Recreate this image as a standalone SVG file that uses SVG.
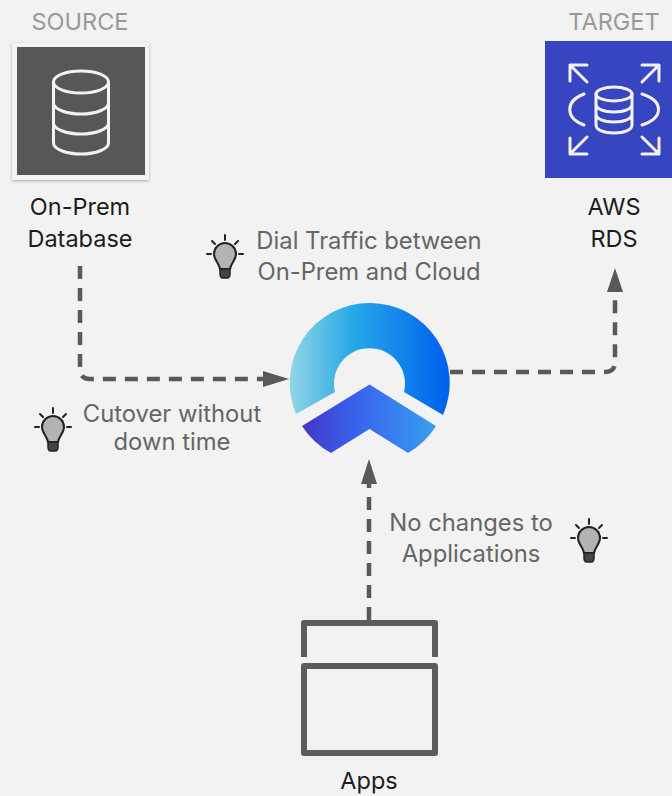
<svg xmlns="http://www.w3.org/2000/svg" width="672" height="796" viewBox="0 0 672 796">
<style>
text{font-family:Inter,"Liberation Sans",sans-serif;font-size:23.500px;text-anchor:middle}
.h{fill:#999}.n{fill:#1c1c1c}.g{fill:#666;font-size:23.800px}
.dash{fill:none;stroke:#595959;stroke-width:4.5;stroke-dasharray:13 9}
.ic{fill:none;stroke:#f2f2f2;stroke-width:3;stroke-linecap:round;stroke-linejoin:round}
.app{fill:none;stroke:#5c5c5c;stroke-width:6;stroke-linejoin:round}
.b{fill:none;stroke:#222;stroke-width:2;stroke-linecap:round}
</style>
<defs>
<filter id="sh" x="-10%" y="-10%" width="120%" height="120%"><feDropShadow dx="0" dy="1" stdDeviation="1.5" flood-color="#000" flood-opacity=".3"/></filter>
<linearGradient id="r" gradientUnits="userSpaceOnUse" x1="290" y1="0" x2="450" y2="0"><stop offset="0" stop-color="#8fd6e3"/><stop offset=".4" stop-color="#25a8e8"/><stop offset="1" stop-color="#005fee"/></linearGradient>
<linearGradient id="c" gradientUnits="userSpaceOnUse" x1="302" y1="0" x2="436" y2="0"><stop offset="0" stop-color="#4436c6"/><stop offset=".4" stop-color="#3862ec"/><stop offset="1" stop-color="#399ff0"/></linearGradient>
<g id="bulb">
<path d="M-5 15 C-6 9 -11 6 -11 0 A11 11 0 0 1 11 0 C11 6 6 9 5 15Z" fill="#b3b3b3" stroke="#222" stroke-width="2"/>
<path d="M-5 15H5V20Q5 24 2 24H-2Q-5 24 -5 20Z" fill="#444" stroke="#222" stroke-width="1.500"/>
<path class="b" d="M0 -19V-14M-13 -13L-10 -10M13 -13L10 -10M-18 0H-14M18 0H14"/>
</g>
</defs>
<rect width="672" height="796" fill="#f2f2f2"/>
<g id="connectors">
<path class="dash" d="M80 266V369Q80 379 90 379H266"/>
<path d="M289 379L263 371V387Z" fill="#595959"/>
<path class="dash" d="M450 372H605Q615 372 615 362V290"/>
<path d="M615 268L607 292H623Z" fill="#595959"/>
<path class="dash" d="M369 620V482"/>
<path d="M369 459L361 484H377Z" fill="#595959"/>
</g>
<g id="source">
<text class="h" x="80" y="30">SOURCE</text>
<rect x="12" y="43" width="137" height="137" fill="#f4f4f4" filter="url(#sh)"/>
<rect x="17" y="47" width="128" height="128" fill="#575757"/>
<g class="ic" transform="translate(81 0)">
<ellipse cx="0" cy="82" rx="27.500" ry="11"/>
<path d="M-27.500 82V143C-27.500 149 -15 154 0 154S27.500 149 27.500 143V82M-27.500 103C-27.500 109 -15 114 0 114S27.500 109 27.500 103M-27.500 123C-27.500 129 -15 134 0 134S27.500 129 27.500 123"/>
</g>
<text class="n" x="80" y="215">On-Prem</text>
<text class="n" x="80" y="247">Database</text>
</g>
<g id="target">
<text class="h" x="614" y="30">TARGET</text>
<rect x="545" y="41" width="127" height="137" fill="#3845c0"/>
<g class="ic" transform="translate(530 0)">
<path d="M40 65H57M40 65V81M40 65L57 82M129 65H112M129 65V81M129 65L112 82M40 154H57M40 154V138M40 154L57 137M129 154H112M129 154V138M129 154L112 137"/>
<path d="M54 94C35 101 35 118 54 125M112 94C134 101 134 118 112 125"/>
<ellipse cx="84" cy="94" rx="18" ry="7"/>
<path d="M66 94V125C66 130 74 133 84 133S102 130 102 125V94M66 104C66 109 74 112 84 112S102 109 102 104M66 114C66 119 74 122 84 122S102 119 102 114"/>
</g>
<text class="n" x="614" y="215">AWS</text>
<text class="n" x="614" y="247">RDS</text>
</g>
<g id="logo">
<path d="M296 414A80 80 0 1 1 443 415L404 392A35.500 35.500 0 1 0 335 392Z" fill="url(#r)"/>
<path d="M369.500 384.500L436 426A80 80 0 0 1 408 453L369.500 429L331 453A80 80 0 0 1 302 426Z" fill="url(#c)"/>
</g>
<g id="apps">
<path class="app" d="M304 657V623H435V657"/>
<rect class="app" x="304" y="666" width="131" height="87"/>
<text class="n" x="369" y="789">Apps</text>
</g>
<g id="note-dial">
<use href="#bulb" x="225" y="254"/>
<text class="g" x="369" y="249">Dial Traffic between</text>
<text class="g" x="369" y="280">On-Prem and Cloud</text>
</g>
<g id="note-cutover">
<use href="#bulb" x="53" y="427"/>
<text class="g" x="172" y="422">Cutover without</text>
<text class="g" x="172" y="450">down time</text>
</g>
<g id="note-apps">
<use href="#bulb" x="589" y="538"/>
<text class="g" x="471" y="531">No changes to</text>
<text class="g" x="471" y="562">Applications</text>
</g>
</svg>
